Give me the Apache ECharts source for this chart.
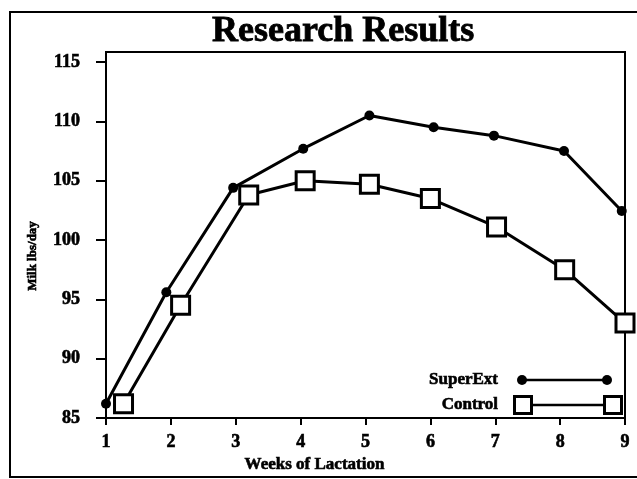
<!DOCTYPE html>
<html>

<head>
  <meta charset="utf-8">
  <title>Research Results</title>
  <script src="https://cdn.jsdelivr.net/npm/echarts@6/dist/echarts.min.js"></script>
  <style>
    html, body { margin: 0; padding: 0; background: #fff; }
  </style>
</head>

<body>
  <div id="main" style="width: 637px;height:479px;"></div>
  <script type="text/javascript">
    var myChart = echarts.init(document.getElementById('main'));

    // values
    var superWeeks = [1.0, 1.93, 2.96, 4.04, 5.06, 6.05, 6.98, 8.06, 8.95];
    var superMilk = [86.2, 95.6, 104.4, 107.7, 110.5, 109.5, 108.8, 107.5, 102.45];
    var controlWeeks = [1.27, 2.15, 3.2, 4.07, 5.06, 6.0, 7.02, 8.07, 9.0];
    var controlMilk = [86.2, 94.5, 103.8, 105.0, 104.7, 103.5, 101.1, 97.5, 93.0];
    var milkTicks = [85, 90, 95, 100, 105, 110, 115];
    var seriesNames = ['SuperExt', 'Control'];

    var serif = 'Liberation Serif';
    // the scan makes all type look heavier, a thin outline imitates that
    var heavy = { textBorderColor: '#000', textBorderWidth: 0.6 };

    function pairs(xs, ys) {
      return xs.map(function (x, i) { return [x, ys[i]]; });
    }

    var option = {
      animation: false,
      backgroundColor: '#fff',
      title: {
        text: 'Research Results',
        left: 212,
        top: 14,
        padding: 0,
        textStyle: {
          fontFamily: serif,
          fontSize: 36,
          fontWeight: 'bold',
          color: '#000',
          textBorderColor: '#000',
          textBorderWidth: 0.8
        }
      },
      grid: {
        left: 106,
        right: 12,
        top: 52,
        bottom: 61,
        show: true,
        borderColor: '#000',
        borderWidth: 2
      },
      xAxis: {
        type: 'value',
        min: 1,
        max: 9,
        interval: 1,
        name: 'Weeks of Lactation',
        nameLocation: 'middle',
        nameGap: 38,
        nameTextStyle: Object.assign({
          fontFamily: serif,
          fontSize: 17,
          fontWeight: 'bold',
          color: '#000',
          padding: [0, 102, 0, 0]
        }, heavy),
        axisLine: { lineStyle: { color: '#000', width: 2 } },
        axisTick: { length: 7, lineStyle: { color: '#000', width: 2 } },
        axisLabel: Object.assign({
          margin: 15,
          fontFamily: serif,
          fontSize: 18,
          fontWeight: 'bold',
          color: '#000'
        }, heavy),
        splitLine: { show: false }
      },
      yAxis: {
        type: 'value',
        min: 85,
        max: 115.85,
        name: 'Milk lbs/day',
        nameLocation: 'middle',
        nameGap: 67,
        nameTextStyle: Object.assign({
          fontFamily: serif,
          fontSize: 13,
          fontWeight: 'bold',
          color: '#000',
          padding: [0, 42, 0, 0]
        }, heavy),
        axisLine: { lineStyle: { color: '#000', width: 2 } },
        axisTick: {
          length: 10,
          customValues: milkTicks,
          lineStyle: { color: '#000', width: 2 }
        },
        axisLabel: Object.assign({
          margin: 26,
          customValues: milkTicks,
          fontFamily: serif,
          fontSize: 18,
          fontWeight: 'bold',
          color: '#000'
        }, heavy),
        splitLine: { show: false }
      },
      series: [
        {
          name: seriesNames[0],
          type: 'line',
          data: pairs(superWeeks, superMilk),
          symbol: 'circle',
          symbolSize: 10,
          clip: false,
          itemStyle: { color: '#000' },
          lineStyle: { color: '#000', width: 3 }
        },
        {
          name: seriesNames[1],
          type: 'line',
          data: pairs(controlWeeks, controlMilk),
          symbol: 'rect',
          symbolSize: 18,
          clip: false,
          showAllSymbol: true,
          itemStyle: { color: '#fff', borderColor: '#000', borderWidth: 3 },
          lineStyle: { color: '#000', width: 3 }
        }
      ],
      graphic: [
        // outer frame of the scanned slide
        {
          type: 'rect',
          shape: { x: 10, y: 12, width: 640, height: 465 },
          style: { fill: null, stroke: '#000', lineWidth: 2 },
          silent: true
        },
        // hand-made legend: marker - line - marker
        {
          type: 'text',
          x: 498, y: 380,
          style: {
            text: seriesNames[0], align: 'right', verticalAlign: 'middle',
            font: 'bold 17px "Liberation Serif"', fill: '#000',
            stroke: '#000', lineWidth: 0.6
          }
        },
        {
          type: 'line',
          shape: { x1: 522, y1: 380, x2: 607, y2: 380 },
          style: { stroke: '#000', lineWidth: 2.5 }
        },
        { type: 'circle', shape: { cx: 522, cy: 380, r: 5 }, style: { fill: '#000' } },
        { type: 'circle', shape: { cx: 607, cy: 380, r: 5 }, style: { fill: '#000' } },
        {
          type: 'text',
          x: 498, y: 405,
          style: {
            text: seriesNames[1], align: 'right', verticalAlign: 'middle',
            font: 'bold 17px "Liberation Serif"', fill: '#000',
            stroke: '#000', lineWidth: 0.6
          }
        },
        {
          type: 'line',
          shape: { x1: 523, y1: 405, x2: 613, y2: 405 },
          style: { stroke: '#000', lineWidth: 2.5 }
        },
        {
          type: 'rect',
          shape: { x: 514.5, y: 396.5, width: 17, height: 17 },
          style: { fill: '#fff', stroke: '#000', lineWidth: 3 }
        },
        {
          type: 'rect',
          shape: { x: 604.5, y: 396.5, width: 17, height: 17 },
          style: { fill: '#fff', stroke: '#000', lineWidth: 3 }
        }
      ]
    };

    myChart.setOption(option);
  </script>
</body>

</html>
